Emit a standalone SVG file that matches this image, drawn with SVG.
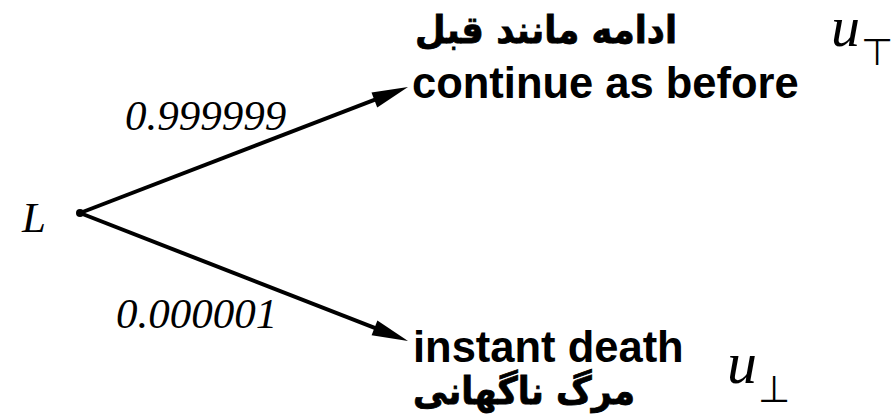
<svg xmlns="http://www.w3.org/2000/svg" width="895" height="416" viewBox="0 0 895 416">
  <style>
    .edge { stroke: #000; stroke-width: 4; fill: none; }
    .math { font-family: "Liberation Serif", "Times New Roman", serif; font-style: italic; fill: #000; }
    .en { font-family: "Liberation Sans", Arial, sans-serif; font-weight: bold; font-size: 43.5px; fill: #000; }
    .fa { font-family: "DejaVu Sans", sans-serif; font-weight: bold; font-size: 38px; fill: #000; stroke: #000; stroke-width: 0.8; }
    .sym { font-family: "DejaVu Sans", sans-serif; font-size: 37px; fill: #000; }
  </style>
  <defs>
    <marker id="head" markerUnits="userSpaceOnUse" markerWidth="36" markerHeight="18" refX="16" refY="9" orient="auto" overflow="visible">
      <path d="M0,1 L36,9 L0,17 Z" fill="#000"/>
    </marker>
  </defs>

  <g id="connectors">
    <path class="edge" d="M80,213 L389.3,94.2" marker-end="url(#head)"/>
    <path class="edge" d="M80,213 L389.4,333.7" marker-end="url(#head)"/>
    <text class="math" x="125" y="130" font-size="43">0.999999</text>
    <text class="math" x="116" y="328" font-size="43">0.000001</text>
  </g>

  <g id="node-root">
    <circle cx="80" cy="213" r="4" fill="#000"/>
    <text class="math" x="22" y="232" font-size="43">L</text>
  </g>

  <g id="node-continue">
    <text class="fa" x="415" y="43" textLength="262" lengthAdjust="spacingAndGlyphs">ادامه مانند قبل</text>
    <text class="en" x="412" y="98">continue as before</text>
    <text class="math" x="831" y="46" font-size="58">u</text>
    <text class="sym" x="877" y="65" text-anchor="middle">⊤</text>
  </g>

  <g id="node-death">
    <text class="en" x="413" y="362">instant death</text>
    <text class="fa" x="413" y="404" textLength="222" lengthAdjust="spacingAndGlyphs">مرگ ناگهانی</text>
    <text class="math" x="727" y="383" font-size="60">u</text>
    <text class="sym" x="774" y="402" text-anchor="middle">⊥</text>
  </g>
</svg>
